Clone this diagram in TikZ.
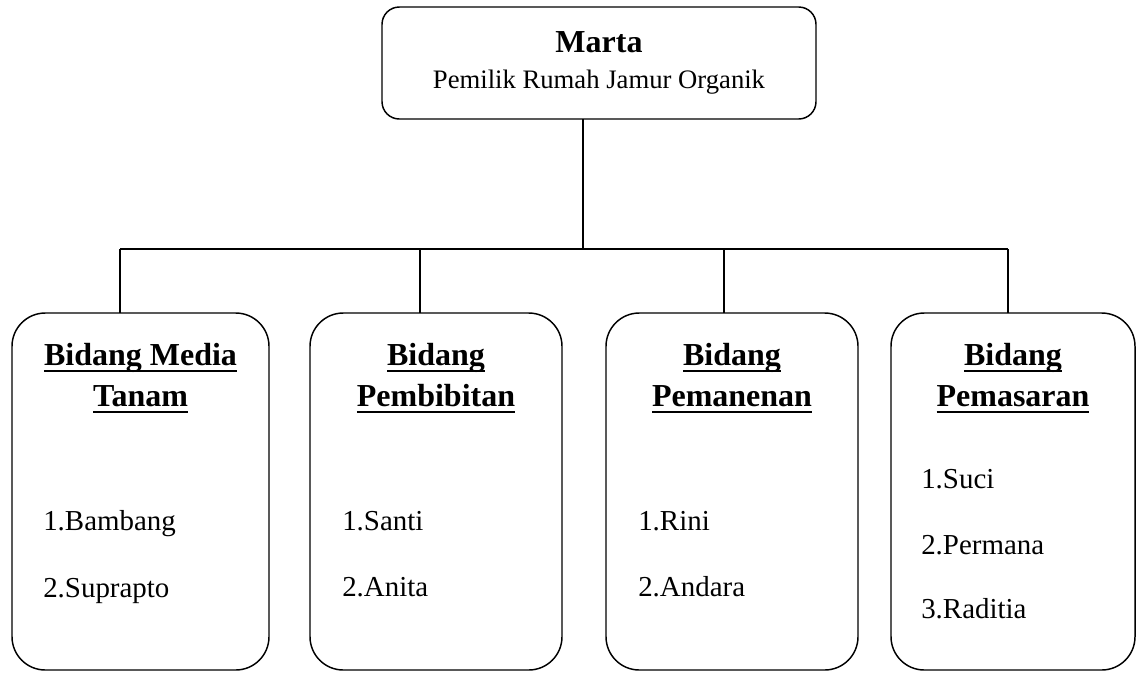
\documentclass[tikz,border=0pt]{standalone}
\usepackage{fontspec}
\setmainfont{Liberation Serif}
\newcommand\myul[1]{\setbox0\hbox{#1}\rlap{\rule[-5.6pt]{\wd0}{1.5pt}}\box0}
\begin{document}
\begin{tikzpicture}[x=0.75pt,y=-0.75pt,
  box/.style={draw=black,line width=1.1pt,rounded corners=25pt,inner sep=0pt,outer sep=0pt,anchor=north west},
  topbox/.style={draw=black,line width=1.1pt,rounded corners=13pt,inner sep=0pt,outer sep=0pt,anchor=north west},
  conn/.style={draw=black,line width=1.1pt},
  ttl/.style={anchor=base,inner sep=0pt,font=\fontsize{24}{29}\selectfont\bfseries},
  sub/.style={anchor=base,inner sep=0pt,font=\fontsize{20}{24}\selectfont},
  item/.style={anchor=base west,inner sep=0pt,font=\fontsize{21.7}{26}\selectfont}]
\useasboundingbox (0,0) rectangle (1137,672);
% top box
\node[topbox,minimum width=325.5pt,minimum height=84pt] (top) at (382,7) {};
\node[ttl] (tname) at (599,52) {Marta};
\node[sub] (trole) at (599,88) {Pemilik Rumah Jamur Organik};
% lower boxes
\node[box,minimum width=192.75pt,minimum height=267.75pt] (b1) at (12,313) {};
\node[box,minimum width=189pt,minimum height=267.75pt] (b2) at (310,313) {};
\node[box,minimum width=189pt,minimum height=267.75pt] (b3) at (606,313) {};
\node[box,minimum width=183pt,minimum height=267.75pt] (b4) at (891,313) {};
% connectors
\coordinate (j) at (583,249);
\coordinate (d1) at (120,249);
\coordinate (d2) at (420,249);
\coordinate (d3) at (724,249);
\coordinate (d4) at (1008,249);
\draw[conn] (top.south -| j) -- (j);
\draw[conn] (d1) -- (d4);
\draw[conn] (d1) -- (d1 |- b1.north);
\draw[conn] (d2) -- (d2 |- b2.north);
\draw[conn] (d3) -- (d3 |- b3.north);
\draw[conn] (d4) -- (d4 |- b4.north);
% box 1
\node[ttl] (t1a) at (140.5,365) {\myul{Bidang Media}};
\node[ttl] (t1b) at (140.5,406) {\myul{Tanam}};
\node[item] (i1a) at (43,530) {1.Bambang};
\node[item] (i1b) at (43,597) {2.Suprapto};
% box 2
\node[ttl] (t2a) at (436,365) {\myul{Bidang}};
\node[ttl] (t2b) at (436,406) {\myul{Pembibitan}};
\node[item] (i2a) at (342,530) {1.Santi};
\node[item] (i2b) at (342,596) {2.Anita};
% box 3
\node[ttl] (t3a) at (732,365) {\myul{Bidang}};
\node[ttl] (t3b) at (732,406) {\myul{Pemanenan}};
\node[item] (i3a) at (638,530) {1.Rini};
\node[item] (i3b) at (638,596) {2.Andara};
% box 4
\node[ttl] (t4a) at (1013,365) {\myul{Bidang}};
\node[ttl] (t4b) at (1013,406) {\myul{Pemasaran}};
\node[item] (i4a) at (921,488) {1.Suci};
\node[item] (i4b) at (921,554) {2.Permana};
\node[item] (i4c) at (921,618) {3.Raditia};
\end{tikzpicture}
\end{document}
